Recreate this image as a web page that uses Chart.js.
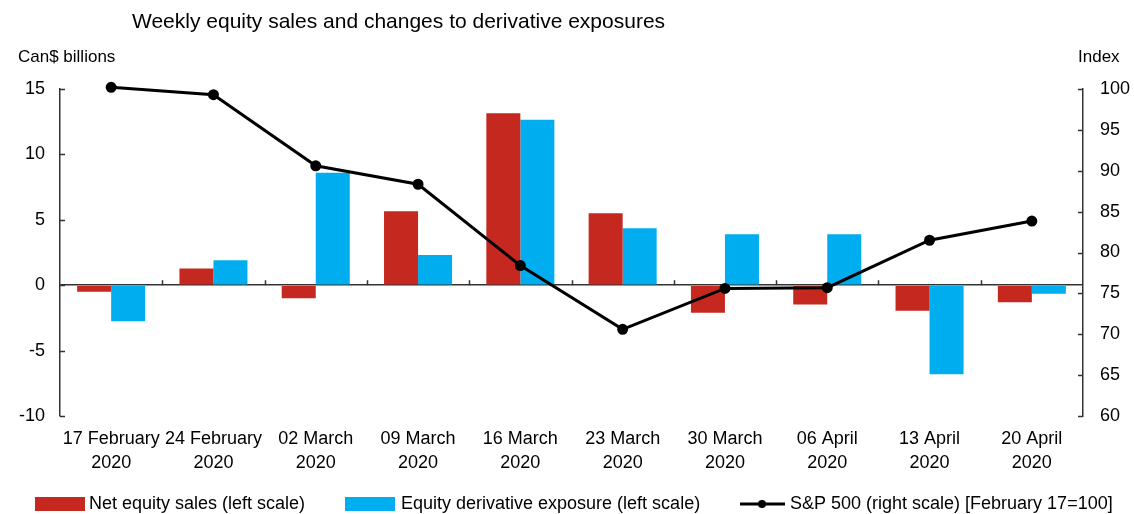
<!DOCTYPE html>
<html>
<head>
<meta charset="utf-8">
<script src="https://cdn.jsdelivr.net/npm/chart.js@4"></script>
<style>
  html, body { margin: 0; padding: 0; background: #fff; }
  #wrap { width: 1134px; height: 514px; position: relative; }
</style>
</head>
<body>
<div id="wrap"><canvas id="equityChart" width="1134" height="514"></canvas></div>
<script>
/* Chart data */
var categories = [
    ['17 February', '2020'], ['24 February', '2020'], ['02 March', '2020'],
    ['09 March', '2020'], ['16 March', '2020'], ['23 March', '2020'],
    ['30 March', '2020'], ['06 April', '2020'], ['13 April', '2020'], ['20 April', '2020']
];
var netEquitySales = [-0.5, 1.27, -1.0, 5.65, 13.15, 5.5, -2.1, -1.47, -1.95, -1.3];
var derivativeExposure = [-2.75, 1.9, 8.6, 2.3, 12.65, 4.35, 3.9, 3.9, -6.8, -0.65];
var sp500 = [100.2, 99.3, 90.6, 88.35, 78.4, 70.6, 75.6, 75.7, 81.5, 83.85];

var leftTicks = { min: -10, max: 15, step: 5 };
var rightTicks = { min: 60, max: 100, step: 5 };

/* Colors */
var red_color = '#c4281f';
var blue_color = '#00aeef';
var axis_color = '#333333';

/* Draw titles, inward tick marks and the legend */
var decorations = {
    id: 'decorations',
    afterDraw: function(chart) {
        var ctx = chart.ctx;
        var area = chart.chartArea;
        var x = chart.scales.x;
        var y = chart.scales.y;
        var y2 = chart.scales.y2;

        ctx.save();
        ctx.fillStyle = '#000';
        ctx.textBaseline = 'middle';
        ctx.textAlign = 'left';
        ctx.font = '21px "Liberation Sans", Arial, sans-serif';
        ctx.fillText('Weekly equity sales and changes to derivative exposures', 132, 22);
        ctx.font = '17px "Liberation Sans", Arial, sans-serif';
        ctx.fillText('Can$ billions', 18, 57);
        ctx.fillText('Index', 1078, 57);

        // Inward tick marks
        ctx.strokeStyle = axis_color;
        ctx.lineWidth = 1.5;
        ctx.beginPath();
        y.ticks.forEach(function(t) {
            var py = Math.round(y.getPixelForValue(t.value)) + 0.5;
            ctx.moveTo(area.left, py);
            ctx.lineTo(area.left + 5, py);
        });
        y2.ticks.forEach(function(t) {
            var py = Math.round(y2.getPixelForValue(t.value)) + 0.5;
            ctx.moveTo(area.right - 5, py);
            ctx.lineTo(area.right, py);
        });
        // Category separators on the zero line
        var zero = y.getPixelForValue(0);
        for (var i = 1; i < categories.length; i++) {
            var px = Math.round((x.getPixelForValue(i - 1) + x.getPixelForValue(i)) / 2) + 0.5;
            ctx.moveTo(px, zero);
            ctx.lineTo(px, zero - 5);
        }
        ctx.stroke();

        // Legend
        var ds = chart.data.datasets;
        var ly = 504;
        ctx.font = '18px "Liberation Sans", Arial, sans-serif';
        ctx.fillStyle = red_color;
        ctx.fillRect(35, 497, 50, 14);
        ctx.fillStyle = blue_color;
        ctx.fillRect(345, 497, 50, 14);
        ctx.strokeStyle = '#000';
        ctx.lineWidth = 3;
        ctx.beginPath();
        ctx.moveTo(740, ly);
        ctx.lineTo(785, ly);
        ctx.stroke();
        ctx.beginPath();
        ctx.arc(762, ly, 4, 0, Math.PI * 2);
        ctx.fillStyle = '#000';
        ctx.fill();
        ctx.fillText(ds[0].label, 89, ly);
        ctx.fillText(ds[1].label, 401, ly);
        ctx.fillText(ds[2].label, 790, ly);
        ctx.restore();
    }
};

Chart.defaults.font.family = '"Liberation Sans", Arial, sans-serif';
Chart.defaults.font.size = 18;
Chart.defaults.color = '#000';

var chart = new Chart(document.getElementById('equityChart'), {
    data: {
        labels: categories,
        datasets: [{
            type: 'bar',
            label: 'Net equity sales (left scale)',
            data: netEquitySales,
            backgroundColor: red_color,
            yAxisID: 'y',
            order: 2
        }, {
            type: 'bar',
            label: 'Equity derivative exposure (left scale)',
            data: derivativeExposure,
            backgroundColor: blue_color,
            yAxisID: 'y',
            order: 2
        }, {
            type: 'line',
            label: 'S&P 500 (right scale) [February 17=100]',
            data: sp500,
            borderColor: '#000',
            backgroundColor: '#000',
            borderWidth: 3,
            pointRadius: 4,
            pointBackgroundColor: '#000',
            tension: 0,
            clip: false,
            yAxisID: 'y2',
            order: 1
        }]
    },
    options: {
        responsive: false,
        animation: false,
        devicePixelRatio: 1,
        layout: { padding: { top: 89, left: 0, right: 0, bottom: 0 } },
        datasets: {
            bar: { categoryPercentage: 0.665, barPercentage: 1.0 }
        },
        plugins: {
            legend: { display: false },
            tooltip: { enabled: false }
        },
        scales: {
            x: {
                grid: { display: false, drawTicks: false },
                border: { display: false },
                ticks: {
                    padding: 12,
                    maxRotation: 0,
                    autoSkip: false,
                    font: { size: 18, lineHeight: 1.28 }
                },
                afterFit: function(s) { s.height = 98; }
            },
            y: {
                position: 'left',
                min: leftTicks.min,
                max: leftTicks.max,
                ticks: { stepSize: leftTicks.step, padding: 15 },
                grid: {
                    drawTicks: false,
                    lineWidth: 1.5,
                    color: function(c) { return c.tick && c.tick.value === 0 ? axis_color : 'rgba(0,0,0,0)'; }
                },
                border: { color: axis_color, width: 1.5 },
                afterFit: function(s) { s.width = 60; }
            },
            y2: {
                position: 'right',
                min: rightTicks.min,
                max: rightTicks.max,
                ticks: { stepSize: rightTicks.step, padding: 17 },
                grid: { drawOnChartArea: false, drawTicks: false },
                border: { color: axis_color, width: 1.5 },
                afterFit: function(s) { s.width = 51; }
            }
        }
    },
    plugins: [decorations]
});
</script>
</body>
</html>
